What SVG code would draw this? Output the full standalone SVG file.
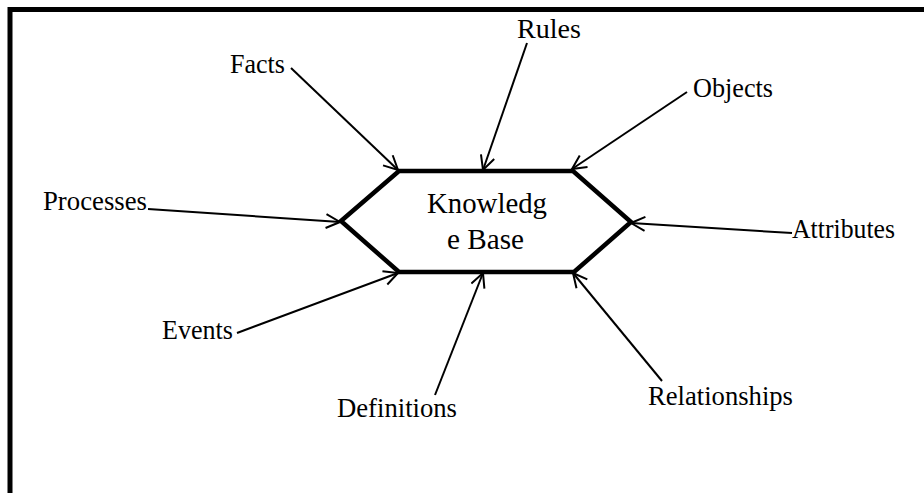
<svg xmlns="http://www.w3.org/2000/svg" width="924" height="493" viewBox="0 0 924 493">
<style>
.lbl{font-family:"Liberation Serif","Times New Roman",serif;font-size:27.5px;fill:#000}
.ctr{font-family:"Liberation Serif","Times New Roman",serif;font-size:30px;fill:#000}
.conn{stroke:#000;stroke-width:2;fill:none;marker-end:url(#arr)}
</style>
<defs>
<marker id="arr" markerUnits="userSpaceOnUse" markerWidth="18" markerHeight="18" refX="15" refY="8" orient="auto">
<path d="M1,1 L15,8 L1,15" fill="none" stroke="#000" stroke-width="2"/>
</marker>
</defs>
<rect width="924" height="493" fill="#fff"/>
<path d="M10,493 V9.5 H924" fill="none" stroke="#000" stroke-width="5"/>
<g id="knowledge-base">
<polygon points="341,221 399,171 573,171 631,222 574,272 399,272" fill="#fff" stroke="#000" stroke-width="4.5" stroke-linejoin="miter"/>
<text class="ctr" x="427" y="213" textLength="120" lengthAdjust="spacingAndGlyphs">Knowledg</text>
<text class="ctr" x="447" y="249" textLength="77" lengthAdjust="spacingAndGlyphs">e Base</text>
</g>
<g id="connectors">
<line class="conn" x1="291" y1="68" x2="398" y2="170"/>
<line class="conn" x1="527" y1="43" x2="483" y2="170"/>
<line class="conn" x1="687" y1="92" x2="572" y2="169"/>
<line class="conn" x1="792" y1="233" x2="631" y2="223"/>
<line class="conn" x1="148" y1="209" x2="340" y2="222"/>
<line class="conn" x1="237" y1="333" x2="398" y2="273"/>
<line class="conn" x1="435" y1="395" x2="483" y2="273"/>
<line class="conn" x1="662" y1="381" x2="573" y2="273"/>
</g>
<g id="facts"><text class="lbl" x="230" y="73" textLength="55" lengthAdjust="spacingAndGlyphs">Facts</text></g>
<g id="rules"><text class="lbl" x="517" y="38" textLength="64" lengthAdjust="spacingAndGlyphs">Rules</text></g>
<g id="objects"><text class="lbl" x="693" y="97" textLength="80" lengthAdjust="spacingAndGlyphs">Objects</text></g>
<g id="attributes"><text class="lbl" x="792" y="238" textLength="103" lengthAdjust="spacingAndGlyphs">Attributes</text></g>
<g id="processes"><text class="lbl" x="43" y="210" textLength="104" lengthAdjust="spacingAndGlyphs">Processes</text></g>
<g id="events"><text class="lbl" x="162" y="339" textLength="71" lengthAdjust="spacingAndGlyphs">Events</text></g>
<g id="definitions"><text class="lbl" x="337" y="417" textLength="120" lengthAdjust="spacingAndGlyphs">Definitions</text></g>
<g id="relationships"><text class="lbl" x="648" y="405" textLength="145" lengthAdjust="spacingAndGlyphs">Relationships</text></g>
</svg>
